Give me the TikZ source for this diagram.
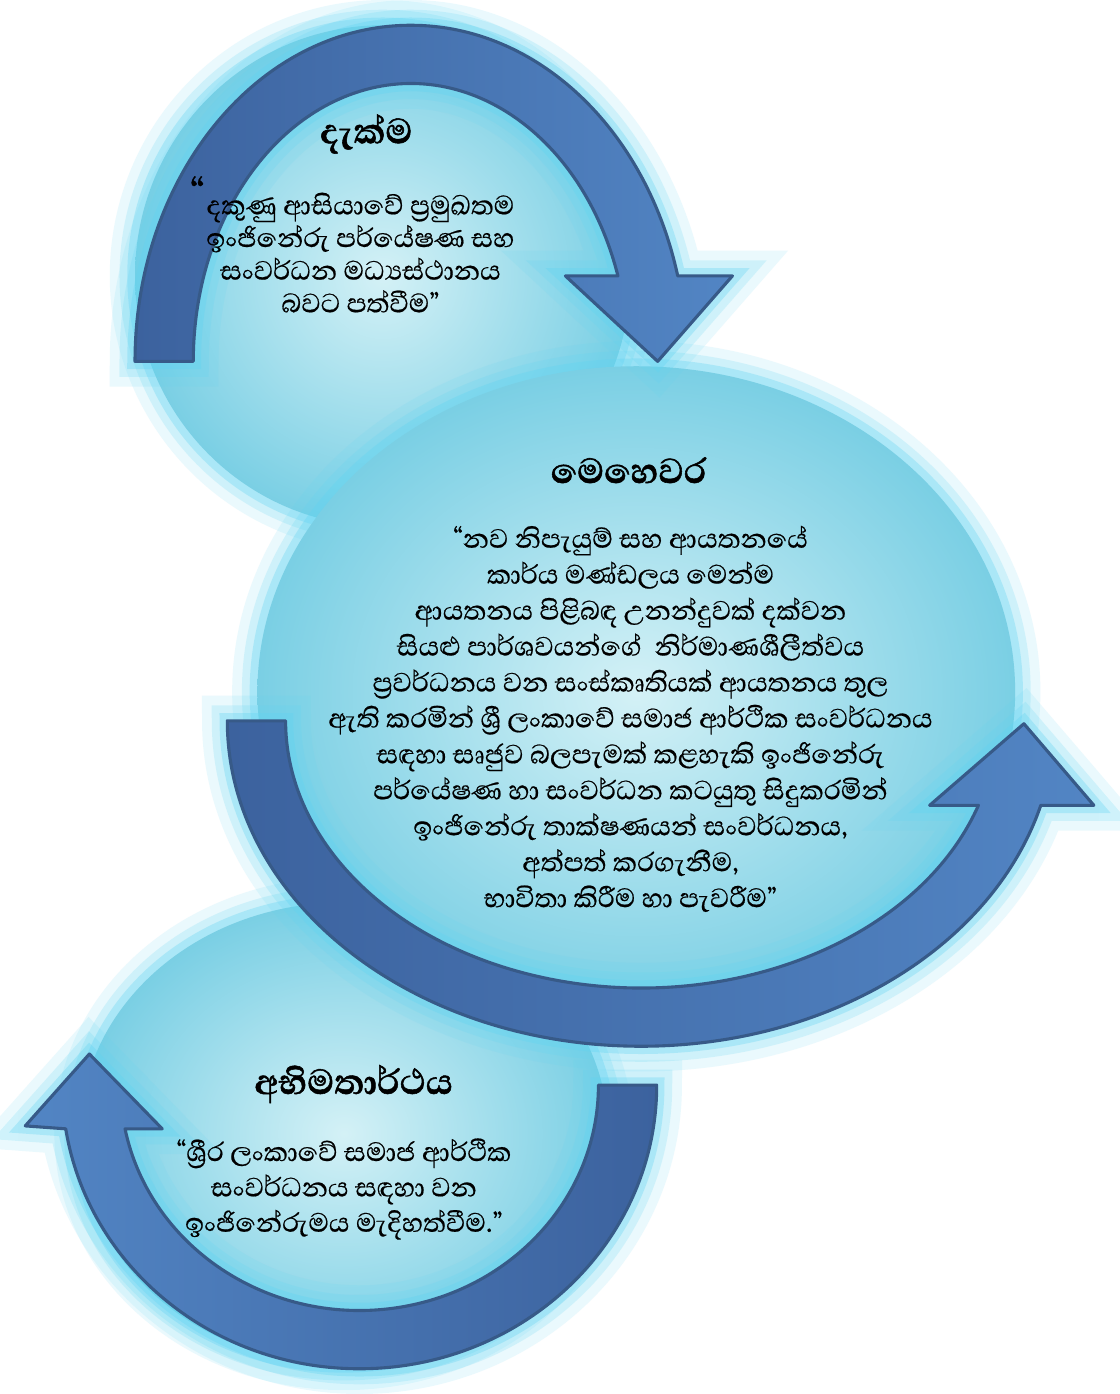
\documentclass[tikz,border=0pt]{standalone}
\usepackage{fontspec}
\newfontfamily\sinhala[Script=Sinhala,FakeBold=0.5,BoldFeatures={FakeBold=1.2}]{Abhaya Libre}

\definecolor{waterin}{RGB}{212,241,246}
\definecolor{waterout}{RGB}{122,207,228}
\definecolor{glowc}{RGB}{96,212,242}
\definecolor{arrowdark}{RGB}{60,98,158}
\definecolor{arrowlight}{RGB}{82,133,196}
\definecolor{arrowline}{RGB}{55,90,136}

\tikzset{
  glow/.style={preaction={draw=glowc,line width=26pt,draw opacity=.13},
    preaction={draw=glowc,line width=16pt,draw opacity=.2},
    preaction={draw=glowc,line width=8pt,draw opacity=.32}},
  water/.style={glow,inner color=waterin,outer color=waterout},
  band/.style={glow,draw=arrowline,line width=1.6pt,line join=round},
  heading/.style={font=\sinhala\bfseries\fontsize{23}{26}\selectfont},
  body/.style={align=center,inner sep=0pt,font=\sinhala\fontsize{17.5}{#1}\selectfont},
}

\begin{document}
\begin{tikzpicture}[x=0.5pt,y=-0.5pt]
\fill[white] (0,0) rectangle (1112,1394);

\shade[water] (375,262) ellipse [x radius=255,y radius=258];
\shade[water] (335,1145) ellipse [x radius=272,y radius=238];
\shade[water] (636,690) ellipse [x radius=390,y radius=335];

\shadedraw[band,left color=arrowdark,right color=arrowlight]
  (120,350) arc[start angle=180,end angle=345.27,x radius=284,y radius=346]
  -- (735,262) -- (658,350) -- (563,262) -- (617.1,262)
  arc[start angle=342.08,end angle=180,x radius=224,y radius=286] -- cycle;

\shadedraw[band,left color=arrowdark,right color=arrowlight]
  (215,720) arc[start angle=180,end angle=15.05,x radius=426,y radius=335]
  -- (1107,807) -- (1035,723) -- (938,807) -- (988.2,807)
  arc[start angle=18.44,end angle=180,x radius=366,y radius=275] -- cycle;

\shadedraw[band,left color=arrowlight,right color=arrowdark]
  (657,1095) arc[start angle=0,end angle=171.13,x radius=306,y radius=292]
  -- (7,1137) -- (73,1063) -- (148,1140) -- (109.7,1140)
  arc[start angle=168.82,end angle=0,x radius=246,y radius=232] -- cycle;

\node[heading] (vtitle) at (358,116) {දැක්ම};
\node[font=\sinhala\fontsize{26}{26}\selectfont] (vquote) at (184,176) {“};
\node[body=16.8] (vtext) at (352,238) {දකුණු ආසියාවේ ප්^^^^200dරමුඛතම\\ඉංජිනේරු පර්යේෂණ සහ\\සංවර්ධන මධ්^^^^200dයස්ථානය\\බවට පත්වීම”};

\node[heading] (mtitle) at (628,462) {මෙහෙවර};
\node[body=18.5] (mtext) at (630,718) {“නව නිපැයුම් සහ ආයතනයේ\\කාර්ය මණ්ඩලය මෙන්ම\\ආයතනය පිළිබඳ උනන්දුවක් දක්වන\\සියළු පාර්ශවයන්ගේ\ \ නිර්මාණශීලීත්වය\\ප්^^^^200dරවර්ධනය වන සංස්කෘතියක් ආයතනය තුල\\ඇති කරමින් ශ්^^^^200dරී ලංකාවේ සමාජ ආර්ථික සංවර්ධනය\\සඳහා සෘජුව බලපැමක් කළහැකි ඉංජිනේරු\\පර්යේෂණ හා සංවර්ධන කටයුතු සිදුකරමින්\\ඉංජිනේරු තාක්ෂණයන් සංවර්ධනය,\\අත්පත් කරගැනීම,\\භාවිතා කිරීම හා පැවරීම”};

\node[heading] (otitle) at (345,1094) {අභිමතාර්ථය};
\node[body=18.2] (otext) at (335,1202) {“ශ්^^^^200dරීර ලංකාවේ සමාජ ආර්ථික\\සංවර්ධනය සඳහා වන\\ඉංජිනේරුමය මැදිහත්වීම.”};

\end{tikzpicture}
\end{document}
